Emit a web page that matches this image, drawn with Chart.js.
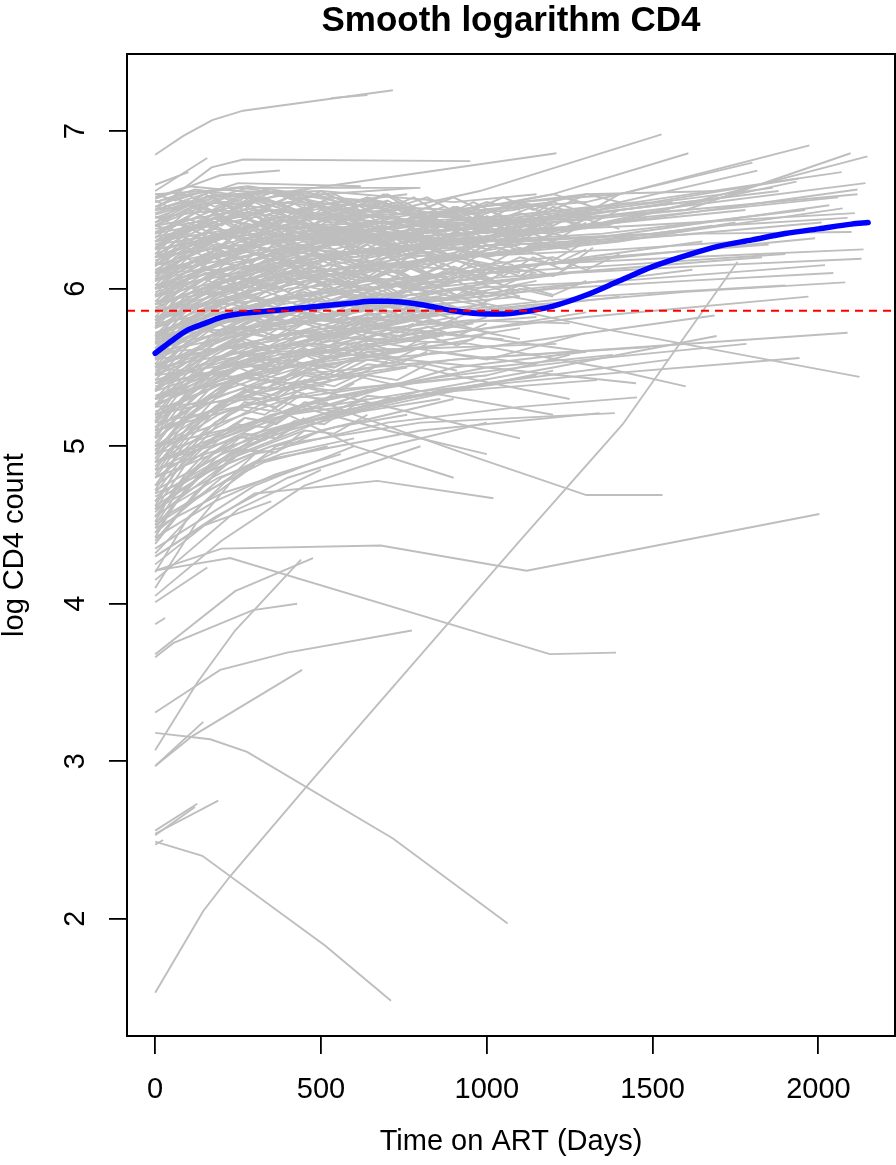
<!DOCTYPE html>
<html>
<head>
<meta charset="utf-8">
<script src="https://cdn.jsdelivr.net/npm/chart.js@4.4.1/dist/chart.umd.min.js"></script>
<style>
  html, body { margin: 0; padding: 0; background: #fff; }
  #wrap { width: 896px; height: 1165px; }
</style>
</head>
<body>
<div id="wrap"><canvas id="cd4Chart" width="896" height="1165"></canvas></div>
<script>
// axis setup
const xTicks = [0, 500, 1000, 1500, 2000];
const yTicks = [2, 3, 4, 5, 6, 7];
const xLimits = [-85, 2231];
const yLimits = [1.256, 7.49];
const refLevel = 5.86;

// smooth mean curve (blue)
const smoothDays = [0, 50, 100, 150, 200, 250, 300, 400, 500, 600, 650, 700, 800, 900, 1000, 1050, 1100, 1200, 1300, 1400, 1500, 1600, 1700, 1800, 1900, 2000, 2100, 2150];
const smoothLogCD4 = [5.59, 5.67, 5.74, 5.78, 5.82, 5.84, 5.85, 5.87, 5.89, 5.91, 5.92, 5.92, 5.9, 5.86, 5.84, 5.84, 5.85, 5.89, 5.96, 6.05, 6.14, 6.21, 6.27, 6.31, 6.35, 6.38, 6.41, 6.42];

// subject trajectories: [day, logCD4, day, logCD4, ...]
const upperTracks = [
  [0,6.48, 180,6.6, 365,6.55, 600,6.5, 900,6.45],
  [0,6.42, 150,6.58, 330,6.62, 560,6.48, 820,6.42, 1050,6.35],
  [0,6.35, 200,6.52, 400,6.6, 700,6.55],
  [0,6.3, 180,6.45, 360,6.38, 540,6.5, 760,6.44, 980,6.5, 1200,6.55],
  [0,6.25, 120,6.4, 300,6.56, 520,6.42],
  [0,6.2, 190,6.5, 420,6.45, 680,6.55, 900,6.4, 1150,6.45, 1400,6.52],
  [0,6.15, 160,6.33, 350,6.44, 600,6.36, 840,6.3],
  [0,6.1, 180,6.3, 400,6.5, 620,6.4, 880,6.47, 1100,6.4],
  [0,6.05, 200,6.26, 380,6.2, 560,6.35, 780,6.25, 1000,6.3, 1300,6.4],
  [0,6.0, 150,6.22, 330,6.35, 520,6.3, 720,6.42],
  [0,6.52, 100,6.6, 260,6.64, 480,6.58, 700,6.5],
  [0,6.45, 180,6.5, 350,6.4, 560,6.3, 800,6.38, 1000,6.25],
  [0,6.38, 200,6.45, 400,6.32, 650,6.4, 900,6.3, 1150,6.38],
  [0,6.33, 170,6.4, 360,6.48, 560,6.55, 760,6.6],
  [0,6.28, 220,6.35, 430,6.25, 650,6.32, 880,6.2, 1100,6.28],
  [0,6.22, 180,6.38, 380,6.3, 600,6.2, 850,6.28, 1080,6.15],
  [0,6.18, 150,6.28, 320,6.42, 500,6.35, 720,6.26, 950,6.33, 1250,6.25],
  [0,6.12, 190,6.2, 400,6.28, 620,6.15, 840,6.22],
  [0,6.08, 170,6.3, 360,6.18, 540,6.28, 760,6.36, 1000,6.2, 1200,6.3],
  [0,6.02, 200,6.15, 420,6.24, 650,6.12, 900,6.2, 1150,6.1],
  [0,6.55, 120,6.63, 300,6.58, 500,6.45],
  [0,6.6, 150,6.62, 280,6.65, 450,6.6],
  [0,6.5, 210,6.55, 420,6.48, 640,6.56, 860,6.46, 1080,6.5, 1300,6.6],
  [0,6.4, 180,6.3, 360,6.45, 560,6.38, 780,6.5, 1000,6.42],
  [0,6.3, 200,6.5, 380,6.6, 560,6.52],
  [0,6.58, 100,6.65, 250,6.62, 500,6.6, 790,6.64],
  [0,6.42, 200,6.58, 416,6.62, 1210,6.86],
  [0,6.5, 250,6.67, 620,6.65],
  [0,6.47, 280,6.64, 800,6.64],
  [0,6.4, 240,6.6, 500,6.62, 900,6.55, 1150,6.6]
];

const bandTracks = [
  [0,6.1, 90,6.3, 180,6.22, 270,6.4, 365,6.3, 450,6.45, 540,6.33, 640,6.42, 730,6.28, 820,6.38, 910,6.25],
  [0,6.0, 90,6.18, 180,6.35, 270,6.25, 365,6.42, 450,6.3, 540,6.2, 640,6.35, 730,6.22, 820,6.3, 910,6.18, 1000,6.28],
  [0,5.9, 90,6.05, 180,6.2, 270,6.12, 365,6.3, 450,6.18, 540,6.32, 640,6.2, 730,6.35, 820,6.22, 910,6.3, 1000,6.2, 1100,6.32],
  [0,6.3, 90,6.45, 180,6.38, 270,6.55, 365,6.42, 450,6.52, 540,6.4, 640,6.5, 730,6.38, 820,6.45],
  [0,6.4, 90,6.5, 180,6.58, 270,6.45, 365,6.55, 450,6.48, 540,6.6, 640,6.5, 730,6.55, 820,6.42, 910,6.52, 1000,6.45],
  [0,6.2, 90,6.35, 180,6.48, 270,6.36, 365,6.5, 450,6.4, 540,6.28, 640,6.4, 730,6.46, 820,6.32, 910,6.42, 1000,6.35, 1100,6.45, 1200,6.38],
  [0,5.8, 90,5.98, 180,6.12, 270,6.05, 365,6.2, 450,6.1, 540,6.22, 640,6.12, 730,6.25, 820,6.15, 910,6.22],
  [0,5.7, 90,5.9, 180,6.02, 270,5.95, 365,6.1, 450,6.02, 540,6.15, 640,6.05, 730,6.12, 820,6.02, 910,6.1, 1000,6.02],
  [0,5.6, 90,5.82, 180,5.95, 270,6.05, 365,5.98, 450,6.1, 540,6.0, 640,6.08, 730,5.98, 820,6.05],
  [0,5.5, 90,5.72, 180,5.85, 270,5.95, 365,5.88, 450,6.0, 540,5.92, 640,6.02, 730,5.95, 820,6.05, 910,5.95, 1000,6.02, 1100,5.95],
  [0,6.5, 90,6.55, 180,6.48, 270,6.6, 365,6.52, 450,6.58, 540,6.45, 640,6.55, 730,6.48],
  [0,6.25, 90,6.4, 180,6.3, 270,6.45, 365,6.35, 450,6.25, 540,6.38, 640,6.3, 730,6.42, 820,6.35, 910,6.45, 1000,6.38, 1100,6.48, 1200,6.4, 1300,6.5],
  [0,6.15, 90,6.28, 180,6.4, 270,6.3, 365,6.22, 450,6.35, 540,6.45, 640,6.35, 730,6.25, 820,6.38, 910,6.3],
  [0,6.05, 90,6.2, 180,6.1, 270,6.28, 365,6.38, 450,6.25, 540,6.35, 640,6.22, 730,6.32, 820,6.4, 910,6.3, 1000,6.4, 1100,6.3, 1200,6.42],
  [0,5.95, 90,6.1, 180,6.25, 270,6.18, 365,6.08, 450,6.2, 540,6.3, 640,6.18, 730,6.1, 820,6.2, 910,6.12, 1000,6.25],
  [0,5.85, 90,6.02, 180,5.95, 270,6.1, 365,6.2, 450,6.08, 540,6.0, 640,6.12, 730,6.2, 820,6.1, 910,6.18, 1000,6.1, 1100,6.2, 1200,6.15, 1300,6.25],
  [0,5.75, 90,5.95, 180,6.08, 270,5.98, 365,6.12, 450,6.02, 540,6.1, 640,5.98, 730,6.08, 820,5.98, 910,6.05, 1000,5.95],
  [0,5.65, 90,5.85, 180,5.98, 270,5.9, 365,6.02, 450,5.92, 540,6.05, 640,5.95, 730,6.02, 820,5.92, 910,6.0, 1000,5.92, 1100,6.0, 1200,5.95],
  [0,6.35, 90,6.45, 180,6.55, 270,6.5, 365,6.4, 450,6.5, 540,6.55, 640,6.45, 730,6.52, 820,6.44, 910,6.5, 1000,6.4],
  [0,6.45, 90,6.52, 180,6.6, 270,6.55, 365,6.62, 450,6.55, 540,6.5, 640,6.58, 730,6.52, 820,6.58, 910,6.48, 1000,6.55, 1100,6.5],
  [0,5.55, 90,5.75, 180,5.9, 270,5.82, 365,5.95, 450,5.88, 540,5.98, 640,5.9, 730,5.96],
  [0,5.45, 90,5.65, 180,5.8, 270,5.9, 365,5.82, 450,5.92, 540,5.85, 640,5.95, 730,5.88, 820,5.95, 910,5.88],
  [0,5.35, 90,5.55, 180,5.72, 270,5.82, 365,5.76, 450,5.85, 540,5.8, 640,5.88, 730,5.82, 820,5.9, 910,5.85, 1000,5.92],
  [0,5.25, 90,5.45, 180,5.62, 270,5.72, 365,5.68, 450,5.78, 540,5.72, 640,5.82, 730,5.78, 820,5.85],
  [0,5.15, 90,5.38, 180,5.55, 270,5.65, 365,5.6, 450,5.72, 540,5.68, 640,5.78, 730,5.72, 820,5.8, 910,5.76, 1000,5.82],
  [0,6.55, 90,6.6, 180,6.52, 270,6.6, 365,6.55, 450,6.62, 540,6.56],
  [0,6.28, 90,6.35, 180,6.45, 270,6.35, 365,6.45, 450,6.38, 540,6.48, 640,6.4, 730,6.34, 820,6.44, 910,6.36, 1000,6.46, 1100,6.4, 1200,6.5, 1300,6.45],
  [0,6.12, 90,6.22, 180,6.32, 270,6.42, 365,6.32, 450,6.4, 540,6.3, 640,6.25, 730,6.36, 820,6.28, 910,6.36, 1000,6.3, 1100,6.38],
  [0,5.92, 90,6.08, 180,6.15, 270,6.25, 365,6.16, 450,6.26, 540,6.18, 640,6.28, 730,6.18, 820,6.26, 910,6.18, 1000,6.28, 1100,6.22, 1200,6.3],
  [0,5.78, 90,5.92, 180,6.05, 270,6.15, 365,6.06, 450,6.16, 540,6.08, 640,6.18, 730,6.1, 820,6.18, 910,6.08],
  [0,5.68, 90,5.88, 180,5.96, 270,6.06, 365,6.0, 450,6.08, 540,5.98, 640,6.06, 730,5.96, 820,6.04, 910,5.96, 1000,6.06, 1100,5.98],
  [0,5.58, 90,5.78, 180,5.88, 270,5.98, 365,5.9, 450,5.98, 540,5.9, 640,5.97, 730,5.9, 820,5.97],
  [0,5.42, 90,5.62, 180,5.76, 270,5.86, 365,5.8, 450,5.88, 540,5.82, 640,5.9, 730,5.84],
  [0,5.3, 90,5.5, 180,5.66, 270,5.76, 365,5.7, 450,5.8, 540,5.75, 640,5.84, 730,5.78, 820,5.86, 910,5.8],
  [0,5.2, 90,5.42, 180,5.58, 270,5.68, 365,5.62, 450,5.74, 540,5.7, 640,5.8, 730,5.74],
  [0,5.05, 90,5.3, 180,5.48, 270,5.6, 365,5.55, 450,5.66, 540,5.62, 640,5.72, 730,5.68, 820,5.76, 910,5.7, 1000,5.78],
  [0,4.95, 90,5.2, 180,5.4, 270,5.52, 365,5.48, 450,5.6, 540,5.56, 640,5.66],
  [0,4.85, 90,5.1, 180,5.3, 270,5.45, 365,5.4, 450,5.52, 540,5.5, 640,5.6, 730,5.56, 820,5.65],
  [0,4.75, 90,5.02, 180,5.22, 270,5.36, 365,5.32, 450,5.45, 540,5.42, 640,5.52, 730,5.5],
  [0,4.65, 90,4.92, 180,5.12, 270,5.28, 365,5.25, 450,5.38, 540,5.35, 640,5.45, 730,5.42, 820,5.52, 910,5.48],
  [0,4.55, 90,4.82, 180,5.02, 270,5.18, 365,5.15, 450,5.28, 540,5.26, 640,5.36],
  [0,4.45, 90,4.72, 180,4.92, 270,5.08, 365,5.05, 450,5.18],
  [0,4.38, 90,4.62, 180,4.82, 270,4.98, 365,4.96, 450,5.1, 540,5.08, 640,5.2],
  [0,5.1, 90,5.32, 180,5.5, 270,5.58, 365,5.5, 450,5.62, 540,5.55, 640,5.65, 730,5.6, 820,5.7, 910,5.64, 1000,5.72, 1100,5.68],
  [0,5.0, 90,5.25, 180,5.42, 270,5.52, 365,5.46, 450,5.58, 540,5.5, 640,5.6, 730,5.55],
  [0,4.9, 90,5.15, 180,5.35, 270,5.44, 365,5.4, 450,5.5, 540,5.45, 640,5.55, 730,5.52, 820,5.6],
  [0,4.8, 90,5.05, 180,5.25, 270,5.35, 365,5.3, 450,5.42, 540,5.38, 640,5.48],
  [0,4.7, 90,4.95, 180,5.15, 270,5.25, 365,5.22, 450,5.34],
  [0,4.6, 90,4.88, 180,5.06, 270,5.18, 365,5.14, 450,5.26, 540,5.22, 640,5.32, 730,5.3],
  [0,4.5, 90,4.78, 180,4.96, 270,5.08, 365,5.05, 450,5.16],
  [0,6.0, 180,6.2, 365,6.3, 540,6.25, 730,6.35, 910,6.3, 1000,6.42, 1100,6.35, 1200,6.45, 1300,6.4, 1400,6.5],
  [0,5.9, 180,6.1, 365,6.18, 540,6.3, 730,6.2, 910,6.32, 1000,6.25, 1100,6.38, 1200,6.3, 1300,6.42],
  [0,6.2, 180,6.35, 365,6.28, 540,6.4, 730,6.32, 910,6.45, 1000,6.5, 1100,6.42, 1200,6.52, 1300,6.46, 1400,6.55],
  [0,5.8, 180,6.0, 365,6.1, 540,6.05, 730,6.15, 910,6.05, 1000,6.15, 1100,6.08, 1200,6.2, 1300,6.12, 1400,6.22],
  [0,6.3, 180,6.45, 365,6.5, 540,6.42, 730,6.5, 910,6.4, 1000,6.48, 1100,6.55, 1200,6.5, 1300,6.6, 1400,6.55],
  [0,5.7, 180,5.9, 365,6.0, 540,6.1, 730,6.02, 910,6.12, 1000,6.05, 1100,6.15, 1200,6.08, 1300,6.2],
  [0,6.1, 180,6.28, 365,6.2, 540,6.35, 730,6.25, 910,6.35, 1000,6.28, 1100,6.22, 1200,6.35, 1300,6.3],
  [0,5.6, 180,5.82, 365,5.92, 540,5.98, 730,5.92, 910,6.0, 1000,5.95, 1100,6.02, 1200,5.96, 1300,6.05]
];

const denseTracks = [
  [0,6.56, 60,6.5, 150,6.6, 240,6.5, 330,6.58, 420,6.48, 510,6.56, 600,6.46, 690,6.55, 780,6.45, 870,6.52],
  [0,6.46, 60,6.4, 150,6.52, 240,6.42, 330,6.5, 420,6.6, 510,6.5, 600,6.42, 690,6.5, 780,6.58, 870,6.46, 960,6.55, 1050,6.45, 1140,6.52],
  [0,6.36, 60,6.42, 150,6.34, 240,6.48, 330,6.4, 420,6.32, 510,6.44, 600,6.52, 690,6.4, 780,6.32, 870,6.42, 960,6.34, 1050,6.46, 1140,6.38, 1230,6.5],
  [0,6.26, 60,6.36, 150,6.26, 240,6.4, 330,6.3, 420,6.44, 510,6.34, 600,6.26, 690,6.38, 780,6.46, 870,6.36, 960,6.26, 1050,6.38, 1140,6.3],
  [0,6.16, 60,6.3, 150,6.2, 240,6.34, 330,6.24, 420,6.36, 510,6.28, 600,6.4, 690,6.3, 780,6.22, 870,6.32, 960,6.42, 1050,6.34, 1140,6.45, 1230,6.36, 1320,6.48],
  [0,6.06, 60,6.2, 150,6.3, 240,6.2, 330,6.32, 420,6.22, 510,6.14, 600,6.26, 690,6.36, 780,6.26, 870,6.18, 960,6.3],
  [0,5.96, 60,6.12, 150,6.22, 240,6.14, 330,6.26, 420,6.16, 510,6.28, 600,6.18, 690,6.1, 780,6.22, 870,6.3, 960,6.2, 1050,6.3, 1140,6.22],
  [0,5.86, 60,6.02, 150,6.14, 240,6.06, 330,6.18, 420,6.08, 510,6.2, 600,6.1, 690,6.22, 780,6.12, 870,6.04, 960,6.16, 1050,6.08, 1140,6.2, 1230,6.12, 1320,6.26],
  [0,5.76, 60,5.94, 150,6.06, 240,5.98, 330,6.1, 420,6.2, 510,6.1, 600,6.02, 690,6.14, 780,6.06, 870,6.16, 960,6.06],
  [0,5.66, 60,5.84, 150,5.98, 240,6.08, 330,6.0, 420,6.12, 510,6.02, 600,6.12, 690,6.04, 780,6.14, 870,6.04, 960,6.12, 1050,6.02, 1140,6.1],
  [0,6.6, 60,6.56, 150,6.62, 240,6.55, 330,6.63, 420,6.56, 510,6.6, 600,6.54],
  [0,6.52, 60,6.58, 150,6.48, 240,6.56, 330,6.46, 420,6.54, 510,6.44, 600,6.52, 690,6.6, 780,6.5, 870,6.42, 960,6.5, 1050,6.58, 1140,6.5, 1230,6.58, 1320,6.52],
  [0,6.32, 100,6.5, 200,6.4, 300,6.55, 400,6.45, 500,6.36, 600,6.48, 700,6.56, 800,6.46, 900,6.38, 1000,6.5, 1100,6.42, 1200,6.55, 1300,6.48, 1400,6.6],
  [0,6.22, 100,6.42, 200,6.32, 300,6.46, 400,6.36, 500,6.5, 600,6.4, 700,6.3, 800,6.42, 900,6.52, 1000,6.44, 1100,6.54, 1200,6.46],
  [0,6.02, 100,6.24, 200,6.36, 300,6.26, 400,6.38, 500,6.3, 600,6.42, 700,6.34, 800,6.24, 900,6.36, 1000,6.46, 1100,6.36, 1200,6.46, 1300,6.38],
  [0,5.82, 100,6.06, 200,6.18, 300,6.28, 400,6.2, 500,6.32, 600,6.24, 700,6.36, 800,6.28, 900,6.2, 1000,6.32, 1100,6.24, 1200,6.36],
  [0,5.62, 100,5.9, 200,6.04, 300,6.14, 400,6.06, 500,6.18, 600,6.1, 700,6.2, 800,6.12, 900,6.22, 1000,6.14, 1100,6.26, 1200,6.18, 1300,6.3],
  [0,5.52, 100,5.8, 200,5.96, 300,6.06, 400,5.98, 500,6.1, 600,6.02, 700,6.12, 800,6.04, 900,6.14, 1000,6.06],
  [0,6.42, 100,6.56, 200,6.46, 300,6.6, 400,6.52, 500,6.62, 600,6.52, 700,6.6, 800,6.5, 900,6.58, 1000,6.48, 1100,6.56, 1200,6.6, 1300,6.54],
  [0,6.14, 100,6.34, 200,6.44, 300,6.34, 400,6.46, 500,6.36, 600,6.46, 700,6.38, 800,6.48, 900,6.4, 1000,6.32, 1100,6.44, 1200,6.36, 1300,6.44, 1400,6.38],
  [0,5.46, 60,5.6, 150,5.74, 240,5.84, 330,5.78, 420,5.86, 510,5.8, 600,5.88, 690,5.82, 780,5.9],
  [0,5.36, 60,5.52, 150,5.66, 240,5.76, 330,5.7, 420,5.8, 510,5.74, 600,5.82, 690,5.76, 780,5.84, 870,5.78, 960,5.86],
  [0,5.26, 60,5.42, 150,5.58, 240,5.68, 330,5.62, 420,5.72, 510,5.66, 600,5.76, 690,5.7, 780,5.78],
  [0,5.16, 60,5.34, 150,5.5, 240,5.6, 330,5.56, 420,5.66, 510,5.62, 600,5.72, 690,5.66, 780,5.74, 870,5.7],
  [0,5.06, 60,5.26, 150,5.44, 240,5.54, 330,5.5, 420,5.6, 510,5.56, 600,5.66, 690,5.6],
  [0,5.56, 60,5.7, 150,5.8, 240,5.74, 330,5.84, 420,5.78, 510,5.88, 600,5.8, 690,5.9, 780,5.82, 870,5.9, 960,5.84],
  [0,5.62, 100,5.78, 200,5.7, 300,5.82, 400,5.74, 500,5.84, 600,5.76, 700,5.86, 800,5.78],
  [0,5.72, 100,5.8, 200,5.72, 300,5.85, 400,5.78, 500,5.88, 600,5.8, 700,5.9, 800,5.82, 900,5.88],
  [0,5.12, 100,5.35, 200,5.52, 300,5.62, 400,5.58, 500,5.68, 600,5.64, 700,5.74, 800,5.7, 900,5.78, 1000,5.72],
  [0,5.02, 100,5.28, 200,5.46, 300,5.56, 400,5.52, 500,5.62, 600,5.58, 700,5.68],
  [0,4.92, 60,5.1, 150,5.28, 240,5.4, 330,5.36, 420,5.48, 510,5.44, 600,5.54],
  [0,4.82, 60,5.0, 150,5.2, 240,5.32, 330,5.3, 420,5.4, 510,5.38],
  [0,4.72, 60,4.92, 150,5.1, 240,5.24, 330,5.2, 420,5.32, 510,5.3, 600,5.4],
  [0,4.62, 60,4.84, 150,5.02, 240,5.14, 330,5.12, 420,5.24],
  [0,4.52, 60,4.74, 150,4.92, 240,5.06, 330,5.04, 420,5.16, 510,5.14, 600,5.26],
  [0,4.42, 60,4.64, 150,4.84, 240,4.98, 330,4.96],
  [0,4.97, 100,5.2, 200,5.36, 300,5.46, 400,5.42, 500,5.54],
  [0,4.87, 100,5.12, 200,5.28, 300,5.38, 400,5.36, 500,5.46, 600,5.44, 700,5.54],
  [0,5.4, 400,5.55, 800,5.35, 1200,5.2],
  [0,5.0, 500,5.25, 900,5.5, 1300,5.6],
  [0,5.6, 500,5.65, 900,5.45, 1250,5.3],
  [0,4.85, 450,5.15, 900,5.35, 1200,5.48],
  [0,5.5, 550,5.7, 1000,5.55, 1300,5.72],
  [0,5.2, 450,5.4, 850,5.6, 1150,5.52],
  [0,5.7, 500,5.8, 950,5.7, 1300,5.6]
];

const middleTracks = [
  [0,5.95, 180,6.15, 360,6.25, 540,6.2, 760,6.3],
  [0,5.9, 150,6.1, 330,6.05, 520,6.2, 720,6.15, 950,6.25],
  [0,5.85, 200,6.0, 400,6.15, 620,6.05, 850,6.2, 1100,6.1],
  [0,5.8, 180,6.05, 360,6.2, 560,6.1],
  [0,5.75, 160,5.95, 340,6.1, 540,6.2, 760,6.05, 980,6.15, 1200,6.2],
  [0,5.7, 190,5.9, 380,6.05, 600,5.95, 820,6.1],
  [0,5.65, 170,5.85, 350,6.0, 560,6.1, 780,6.0, 1000,6.08],
  [0,5.6, 200,5.9, 420,5.95, 640,6.05, 900,5.95, 1150,6.05],
  [0,5.55, 180,5.8, 370,5.95, 580,5.9, 800,6.0],
  [0,5.5, 160,5.75, 330,5.9, 520,6.0, 740,5.95, 960,6.02, 1250,6.1],
  [0,5.45, 200,5.7, 400,5.85, 620,5.9, 860,5.85],
  [0,5.4, 180,5.65, 360,5.8, 560,5.95, 780,5.9, 1000,5.98],
  [0,5.35, 170,5.6, 350,5.78, 540,5.85, 760,5.95],
  [0,5.3, 190,5.55, 380,5.7, 600,5.82, 840,5.9, 1100,5.95],
  [0,5.98, 180,6.08, 380,5.95, 600,6.1, 820,6.0, 1050,6.12],
  [0,5.92, 200,5.98, 420,6.12, 640,6.0, 880,6.08],
  [0,5.88, 160,6.02, 340,5.92, 520,6.05, 720,5.95, 940,6.0, 1150,5.92],
  [0,5.82, 180,5.92, 360,5.85, 560,5.98, 780,5.88],
  [0,5.78, 200,5.85, 400,5.95, 620,5.88, 850,5.95, 1080,5.85],
  [0,5.72, 150,5.82, 320,5.9, 500,5.82, 700,5.92],
  [0,5.68, 180,5.78, 360,5.85, 560,5.78, 780,5.85, 1000,5.9],
  [0,5.62, 200,5.72, 420,5.8, 650,5.72, 900,5.82],
  [0,5.58, 170,5.7, 350,5.75, 560,5.7, 780,5.8, 1020,5.72],
  [0,5.52, 190,5.62, 380,5.7, 600,5.75],
  [0,5.48, 160,5.6, 330,5.68, 520,5.75, 740,5.7, 960,5.78],
  [0,5.42, 200,5.55, 400,5.62, 620,5.7],
  [0,5.38, 180,5.48, 370,5.58, 580,5.65, 800,5.72, 1050,5.68],
  [0,5.32, 160,5.45, 340,5.55, 540,5.6],
  [0,5.27, 200,5.42, 420,5.52, 650,5.6, 900,5.65],
  [0,5.22, 180,5.38, 360,5.5, 560,5.55, 780,5.62],
  [0,5.3, 500,5.6, 1000,5.75, 1300,5.85],
  [0,5.6, 500,5.8, 1000,5.85, 1400,5.95],
  [0,5.4, 450,5.7, 950,5.8, 1250,5.78],
  [0,5.7, 500,5.9, 1000,5.95, 1350,6.05],
  [0,4.95, 500,5.3, 1000,5.5, 1380,5.58]
];

const lowerTracks = [
  [0,5.18, 170,5.42, 350,5.6, 540,5.72, 760,5.8],
  [0,5.12, 200,5.35, 400,5.5, 620,5.62, 860,5.7],
  [0,5.05, 180,5.3, 360,5.45, 560,5.58],
  [0,5.0, 160,5.22, 330,5.4, 520,5.52, 740,5.6, 960,5.68],
  [0,4.95, 190,5.2, 380,5.35, 600,5.45],
  [0,4.9, 170,5.1, 350,5.3, 540,5.42, 760,5.5],
  [0,4.85, 200,5.05, 420,5.25, 650,5.35],
  [0,4.8, 180,5.05, 360,5.2, 560,5.32, 780,5.4, 1000,5.45],
  [0,4.75, 160,4.98, 330,5.15, 520,5.28],
  [0,4.72, 200,4.95, 400,5.1, 620,5.22, 860,5.3],
  [0,4.68, 180,4.9, 370,5.08],
  [0,4.62, 170,4.85, 350,5.0, 540,5.12, 760,5.2],
  [0,4.56, 190,4.8, 380,4.95, 600,5.05],
  [0,4.52, 160,4.72, 330,4.9, 520,5.0],
  [0,4.48, 200,4.7, 420,4.85],
  [0,4.42, 180,4.65, 360,4.82, 560,4.95],
  [0,5.25, 200,5.5, 420,5.65, 650,5.75, 900,5.85, 1150,5.9],
  [0,5.15, 180,5.45, 380,5.62, 600,5.78, 850,5.88],
  [0,5.08, 200,5.38, 400,5.58, 650,5.7, 900,5.78, 1150,5.82],
  [0,4.98, 250,5.3, 500,5.5, 800,5.65, 1100,5.75],
  [0,4.05, 200,4.4, 450,4.75, 800,5.0],
  [0,4.15, 250,4.6, 500,4.85],
  [0,4.3, 180,4.55, 400,4.8, 700,5.0, 1000,5.15],
  [0,4.35, 300,4.75, 600,5.0],
  [0,4.45, 200,4.8, 500,5.1, 900,5.3],
  [0,4.25, 150,4.5, 350,4.65],
  [0,4.55, 250,4.95, 550,5.2, 850,5.35, 1150,5.45],
  [0,4.6, 200,4.9, 450,5.1],
  [0,4.65, 300,5.05, 700,5.3, 1050,5.4],
  [0,5.25, 300,5.3, 600,5.0, 900,4.8],
  [0,5.5, 400,5.4, 800,5.2, 1100,5.05],
  [0,5.1, 350,5.3, 700,5.1, 1000,4.95],
  [0,4.6, 300,4.95, 700,5.15, 1100,5.25, 1453,5.31],
  [0,4.7, 350,5.0, 800,5.15, 1386,5.21],
  [0,4.9, 400,5.2, 900,5.35, 1332,5.42],
  [0,4.5, 300,4.9, 800,5.1, 1340,5.21],
  [0,5.2, 400,5.45, 900,5.55, 1491,5.63],
  [0,5.35, 350,5.6, 800,5.62, 1210,5.65],
  [0,5.3, 250,5.5, 600,5.2, 979,4.92, 1300,4.69, 1530,4.69],
  [0,4.3, 300,4.7, 670,4.78, 1020,4.67],
  [0,4.1, 120,4.5, 240,4.8, 365,5.0, 500,5.1],
  [0,4.2, 100,4.55, 200,4.75, 300,4.95],
  [0,4.4, 120,4.7, 240,4.95, 365,5.1, 500,5.2, 640,5.3],
  [0,4.32, 150,4.65, 300,4.88],
  [0,4.48, 100,4.75, 200,4.9, 300,5.05, 420,5.15],
  [0,4.58, 120,4.85, 240,5.0, 365,5.15]
];

const longTracks = [
  [0,6.2, 360,6.45, 720,6.5, 979,6.62, 1527,6.98],
  [0,6.1, 400,6.35, 800,6.45, 1200,6.6, 1608,6.86],
  [0,6.3, 300,6.5, 700,6.45, 1100,6.55, 1400,6.6, 1973,6.91],
  [0,6.0, 350,6.3, 800,6.35, 1250,6.45, 1600,6.5, 2097,6.86],
  [0,5.9, 420,6.2, 900,6.3, 1350,6.4, 2148,6.84],
  [0,6.25, 500,6.45, 1000,6.5, 1300,6.55, 1801,6.8],
  [0,5.95, 380,6.25, 850,6.4, 1300,6.5, 1816,6.75],
  [0,6.05, 360,6.35, 720,6.28, 1100,6.4, 1500,6.5, 2142,6.67],
  [0,5.85, 330,6.15, 700,6.25, 1050,6.35, 1500,6.45, 2118,6.63],
  [0,6.15, 400,6.4, 800,6.3, 1200,6.42, 1600,6.5, 2118,6.6],
  [0,5.8, 400,6.1, 900,6.3, 1350,6.42, 1934,6.68],
  [0,6.35, 360,6.5, 760,6.4, 1150,6.45, 1862,6.64],
  [0,5.75, 300,6.0, 700,6.2, 1100,6.3, 1550,6.35, 2073,6.51],
  [0,5.7, 350,6.05, 800,6.15, 1250,6.3, 2033,6.53],
  [0,6.0, 420,6.25, 900,6.2, 1300,6.3, 1700,6.4, 2088,6.45],
  [0,5.6, 300,5.9, 700,6.05, 1100,6.15, 1600,6.2, 2136,6.25],
  [0,5.5, 350,5.85, 800,6.0, 1250,6.1, 1700,6.15, 2130,6.19],
  [0,5.9, 380,6.15, 800,6.25, 1250,6.3, 1650,6.35, 2100,6.36],
  [0,5.4, 320,5.75, 750,5.9, 1200,6.0, 1600,6.05, 2045,6.1],
  [0,5.3, 300,5.6, 720,5.8, 1150,5.9, 1600,5.98, 2081,6.04],
  [0,5.2, 360,5.55, 800,5.7, 1300,5.82, 1970,5.95],
  [0,5.1, 400,5.4, 900,5.55, 1400,5.62, 2088,5.72],
  [0,4.9, 350,5.2, 800,5.35, 1300,5.45, 1943,5.56],
  [0,6.1, 450,6.15, 900,5.95, 1340,5.75, 2124,5.44],
  [0,5.0, 400,5.3, 900,5.45, 1300,5.55, 1783,5.65],
  [0,4.8, 350,5.1, 800,5.35, 1200,5.5, 1693,5.7],
  [0,5.3, 400,5.5, 900,5.6, 1687,5.83],
  [0,6.4, 400,6.55, 900,6.5, 1300,6.6, 1700,6.62],
  [0,5.8, 450,6.1, 950,6.2, 1400,6.3, 1750,6.42],
  [0,6.2, 300,6.4, 800,6.35, 1250,6.45, 1560,6.55],
  [0,5.65, 400,5.95, 850,6.05, 1300,6.2, 1650,6.3],
  [0,6.1, 350,6.3, 800,6.4, 1200,6.35, 1480,6.45],
  [0,5.55, 380,5.9, 900,6.1, 1350,6.2, 1850,6.28],
  [0,5.95, 500,6.2, 1000,6.1, 1400,6.15, 1900,6.22],
  [0,5.45, 400,5.8, 900,5.95, 1350,6.05, 1620,6.12],
  [0,6.1, 500,6.3, 1000,6.4, 1400,6.5, 1880,6.62],
  [0,5.9, 450,6.2, 950,6.3, 1350,6.35, 1960,6.5],
  [0,6.2, 500,6.35, 1000,6.3, 1450,6.45, 2060,6.58],
  [0,6.0, 400,6.25, 900,6.35, 1300,6.4, 1780,6.5],
  [0,5.8, 400,6.05, 900,6.2, 1350,6.3, 2010,6.42],
  [0,6.3, 450,6.45, 950,6.4, 1400,6.5, 1720,6.58],
  [0,5.7, 400,6.0, 900,6.1, 1400,6.2, 1990,6.32],
  [0,6.05, 450,6.3, 950,6.35, 1450,6.4, 2110,6.48],
  [0,5.6, 400,5.95, 900,6.05, 1350,6.12, 1830,6.2],
  [0,6.15, 500,6.35, 1000,6.45, 1500,6.55, 1940,6.7],
  [0,5.85, 420,6.1, 900,6.2, 1400,6.25, 1760,6.3],
  [0,5.5, 400,5.85, 900,6.0, 1400,6.05, 2020,6.15],
  [0,6.25, 450,6.4, 1000,6.45, 1450,6.55, 2070,6.74],
  [0,5.4, 350,5.7, 850,5.85, 1300,5.95, 1900,6.02],
  [0,6.0, 500,6.2, 1000,6.3, 1500,6.35, 1680,6.4],
  [0,5.45, 500,5.6, 1000,5.5, 1450,5.4],
  [0,4.9, 500,5.2, 1000,5.4, 1550,5.55],
  [0,5.55, 450,5.7, 950,5.65, 1350,5.5, 1600,5.38],
  [0,5.15, 500,5.35, 1000,5.45, 1250,5.58]
];

const outlierTracks = [
  [0,6.85, 85,6.97, 172,7.07, 265,7.13, 717,7.26],
  [530,7.21, 640,7.23],
  [0,6.62, 157,6.83],
  [0,6.57, 196,6.72, 376,6.75],
  [0,6.5, 170,6.77, 265,6.82, 950,6.81],
  [0,6.66, 100,6.74],
  [0,1.53, 145,2.05, 226,2.27, 473,2.88, 1100,4.4, 1410,5.14, 1756,6.17],
  [0,4.21, 200,4.35, 680,4.37, 1120,4.21, 2003,4.57],
  [0,4.21, 226,4.29, 1190,3.68, 1390,3.69],
  [0,4.01, 157,4.23],
  [0,3.87, 30,3.91],
  [0,3.68, 241,4.08, 476,4.29],
  [0,3.66, 54,3.75, 295,3.96, 428,4.0],
  [0,3.31, 196,3.58, 398,3.69, 774,3.83],
  [0,3.07, 127,3.5, 241,3.83, 440,4.28],
  [0,2.97, 112,3.16, 443,3.58],
  [0,2.97, 145,3.25],
  [0,3.18, 166,3.14, 277,3.06, 717,2.51, 1063,1.97],
  [0,2.49, 142,2.4, 512,1.83, 711,1.48],
  [0,2.56, 127,2.73],
  [0,2.54, 190,2.75],
  [0,2.53, 120,2.71],
  [0,2.47, 24,2.5]
];

const mainTitle = 'Smooth logarithm CD4';
const xTitle = 'Time on ART (Days)';
const yTitle = 'log CD4 count';
const fontFamily = '"Liberation Sans", Arial, Helvetica, sans-serif';

const toPoints = (track) => {
  const pts = [];
  for (let i = 0; i < track.length; i += 2) pts.push({ x: track[i], y: track[i + 1] });
  return pts;
};

const allTracks = [].concat(upperTracks, bandTracks, denseTracks, middleTracks, lowerTracks, longTracks, outlierTracks);

const datasets = [];
// red reference line on top
datasets.push({
  data: [{ x: xLimits[0], y: refLevel }, { x: xLimits[1], y: refLevel }],
  borderColor: '#FF0000', borderWidth: 2, borderDash: [8, 6], order: 0
});
// blue smooth curve
datasets.push({
  data: smoothDays.map((d, i) => ({ x: d, y: smoothLogCD4[i] })),
  borderColor: '#0000FF', borderWidth: 5.5, cubicInterpolationMode: 'monotone',
  borderCapStyle: 'round', order: 1
});
// gray subject lines
allTracks.forEach(t => {
  datasets.push({ data: toPoints(t), borderColor: '#BEBEBE', borderWidth: 1.9, order: 2 });
});
datasets.forEach(ds => { ds.showLine = true; ds.pointRadius = 0; ds.pointHoverRadius = 0; ds.fill = false; });

// frame + main title
const framePlugin = {
  id: 'frame',
  afterDraw(chart) {
    const { ctx, chartArea: a } = chart;
    ctx.save();
    ctx.strokeStyle = '#000';
    ctx.lineWidth = 2;
    ctx.strokeRect(a.left, a.top, a.right - a.left, a.bottom - a.top);
    ctx.fillStyle = '#000';
    ctx.font = 'bold 35px ' + fontFamily;
    ctx.textAlign = 'center';
    ctx.textBaseline = 'alphabetic';
    ctx.fillText(mainTitle, (a.left + a.right) / 2, 31);
    ctx.restore();
  }
};

Chart.defaults.font.family = fontFamily;
Chart.defaults.color = '#000';

new Chart(document.getElementById('cd4Chart'), {
  type: 'scatter',
  data: { datasets },
  options: {
    responsive: false,
    devicePixelRatio: 1,
    animation: false,
    events: [],
    layout: { padding: { top: 54, right: 1, left: 0, bottom: 0 } },
    plugins: { legend: { display: false }, tooltip: { enabled: false }, title: { display: false } },
    scales: {
      x: {
        type: 'linear', min: xLimits[0], max: xLimits[1],
        afterBuildTicks: s => { s.ticks = xTicks.map(v => ({ value: v })); },
        afterFit: s => { s.height = 129; },
        border: { display: false },
        grid: { drawOnChartArea: false, drawTicks: true, tickLength: 18, color: '#000', lineWidth: 1.8 },
        ticks: { font: { size: 29 }, color: '#000', padding: 19, maxRotation: 0, autoSkip: false, callback: v => String(v) },
        title: { display: true, text: xTitle, color: '#000', font: { size: 29 }, padding: { top: 0, bottom: 5.6 } }
      },
      y: {
        type: 'linear', min: yLimits[0], max: yLimits[1],
        afterBuildTicks: s => { s.ticks = yTicks.map(v => ({ value: v })); },
        afterFit: s => { s.width = 127; },
        border: { display: false },
        grid: { drawOnChartArea: false, drawTicks: true, tickLength: 18, color: '#000', lineWidth: 1.8 },
        ticks: { font: { size: 29 }, color: '#000', padding: 25, minRotation: 90, maxRotation: 90, crossAlign: 'center', autoSkip: false, callback: v => String(v) },
        title: { display: true, text: yTitle, color: '#000', font: { size: 29, lineHeight: 1 }, padding: { top: 0, bottom: 0 } }
      }
    }
  },
  plugins: [framePlugin]
});
</script>
</body>
</html>
